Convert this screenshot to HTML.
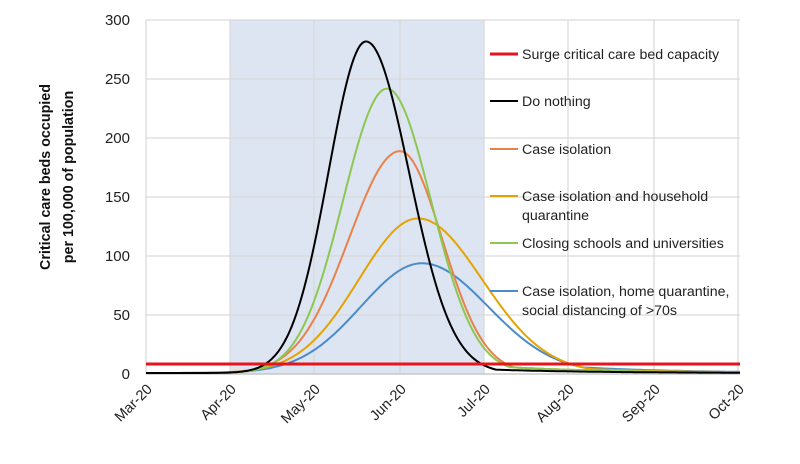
<!DOCTYPE html>
<html><head><meta charset="utf-8"><style>
body{margin:0;background:#fff;}
svg text{font-family:"Liberation Sans",sans-serif;}
</style></head><body>
<svg id="s" width="800" height="459" xmlns="http://www.w3.org/2000/svg">
<rect x="230" y="20" width="254" height="354" fill="#dde4f2"/>
<g stroke="#d9d9d9" stroke-width="1.2">
<line x1="146" y1="20" x2="740" y2="20"/><line x1="146" y1="79" x2="740" y2="79"/>
<line x1="146" y1="138" x2="740" y2="138"/><line x1="146" y1="197" x2="740" y2="197"/>
<line x1="146" y1="256" x2="740" y2="256"/><line x1="146" y1="315" x2="740" y2="315"/>
<line x1="146" y1="20" x2="146" y2="374"/><line x1="230" y1="20" x2="230" y2="374"/>
<line x1="314" y1="20" x2="314" y2="374"/><line x1="400" y1="20" x2="400" y2="374"/>
<line x1="484" y1="20" x2="484" y2="374"/><line x1="568" y1="20" x2="568" y2="374"/>
<line x1="654" y1="20" x2="654" y2="374"/><line x1="738" y1="20" x2="738" y2="374"/>
</g>
<line x1="146" y1="374" x2="740" y2="374" stroke="#bfbfbf" stroke-width="1.2"/>
<g font-size="15" fill="#222" text-anchor="end">
<text x="130" y="25">300</text><text x="130" y="84">250</text><text x="130" y="143">200</text>
<text x="130" y="202">150</text><text x="130" y="261">100</text><text x="130" y="320">50</text><text x="130" y="379">0</text>
</g>
<g font-size="14.5" fill="#222" text-anchor="end">
<text transform="translate(153,390) rotate(-45)">Mar-20</text>
<text transform="translate(237,390) rotate(-45)">Apr-20</text>
<text transform="translate(321,390) rotate(-45)">May-20</text>
<text transform="translate(407,390) rotate(-45)">Jun-20</text>
<text transform="translate(491,390) rotate(-45)">Jul-20</text>
<text transform="translate(575,390) rotate(-45)">Aug-20</text>
<text transform="translate(661,390) rotate(-45)">Sep-20</text>
<text transform="translate(745,390) rotate(-45)">Oct-20</text>
</g>
<g font-size="14.3" font-weight="bold" fill="#111" text-anchor="middle">
<text transform="translate(50,177) rotate(-90)">Critical care beds occupied</text>
<text transform="translate(73,177) rotate(-90)">per 100,000 of population</text>
</g>
<g id="curves" fill="none" stroke-width="2"></g>
<line x1="146" y1="364" x2="740" y2="364" stroke="#e8141c" stroke-width="3"/>
<g stroke-width="2">
<line x1="490" y1="54" x2="518" y2="54" stroke="#e8141c" stroke-width="3"/>
<line x1="490" y1="101" x2="518" y2="101" stroke="#000"/>
<line x1="490" y1="149" x2="518" y2="149" stroke="#e8824a"/>
<line x1="490" y1="196" x2="518" y2="196" stroke="#e3a400"/>
<line x1="490" y1="243" x2="518" y2="243" stroke="#8cc850"/>
<line x1="490" y1="291" x2="518" y2="291" stroke="#4a8cc8"/>
</g>
<g font-size="14.2" fill="#222">
<text x="522" y="59">Surge critical care bed capacity</text>
<text x="522" y="106">Do nothing</text>
<text x="522" y="154">Case isolation</text>
<text x="522" y="201">Case isolation and household</text>
<text x="522" y="220">quarantine</text>
<text x="522" y="248">Closing schools and universities</text>
<text x="522" y="296">Case isolation, home quarantine,</text>
<text x="522" y="315">social distancing of &gt;70s</text>
</g>
</svg>
<script>
var C=[["#4a8cc8",93,422,61,66,4],["#e3a400",131,418,59,64,3],["#e8824a",188,400,51,42,2],["#8cc850",241,387,44,44,2],["#000",281,366,37.5,43,1]];
var g=document.getElementById("curves");
C.forEach(function(c){var d="";for(var x=146;x<=740;x+=2){var s=x<c[2]?c[3]:c[4];var v=c[1]*Math.exp(-(x-c[2])*(x-c[2])/(2*s*s));
if(x>c[2]){v=Math.max(v,c[5]*Math.exp(-(x-600)/100));}
var y=374-v*1.18-1;d+=(x==146?"M":"L")+x+" "+y.toFixed(1);}
var p=document.createElementNS("http://www.w3.org/2000/svg","path");p.setAttribute("d",d);p.setAttribute("stroke",c[0]);g.appendChild(p);});
</script>
</body></html>
